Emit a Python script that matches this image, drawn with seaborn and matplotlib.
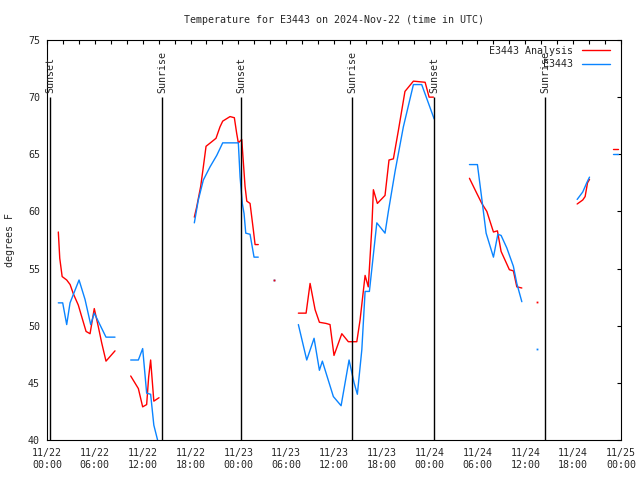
import numpy as np
import pandas as pd
import matplotlib
matplotlib.use("Agg")
import matplotlib.pyplot as plt
import seaborn as sns
from matplotlib.lines import Line2D

NaN = np.nan

# ---- data (hours since 2024-11-22 00:00 UTC; NaN separates gaps) ----
analysis_hours = [1.42, 1.6, 1.9, 2.47, 2.9, 3.3, 3.93, 4.35, 4.9, 5.4, 5.93, 6.44, 6.86, 7.4, 8.53, NaN,
                  10.5, 11.46, 12.0, 12.5, 12.75, 13.0, 13.4, 14.05, NaN,
                  18.48, 18.78, 19.28, 19.61, 19.95, 20.67, 21.2, 21.7, 22.04, 22.96, 23.5, 23.8, 24.0,
                  24.43, 24.84, 25.06, 25.47, 25.88, 26.1, 26.5, NaN,
                  28.5, NaN,
                  31.53, 32.5, 33.0, 33.63, 34.17, 35.0, 35.5, 36.0, 36.98, 37.8, 38.86, 39.27, 39.9,
                  40.3, 40.74, 40.94, 41.44, 42.4, 42.9, 43.45, 44.08, 44.9, 45.96, 47.43, 47.93, 48.47, NaN,
                  52.99, 53.9, 54.54, 55.17, 56.0, 56.5, 56.96, 58.0, 58.5, 58.93, 59.56, NaN,
                  61.5, NaN,
                  66.5, 67.2, 67.5, 67.8, 68.05, NaN,
                  71.0, 71.6]
analysis_temp = [58.2, 55.9, 54.3, 54.0, 53.6, 52.8, 51.8, 50.8, 49.5, 49.3, 51.5, 49.9, 48.5, 46.9, 47.8, NaN,
                 45.6, 44.5, 42.9, 43.1, 45.5, 47.0, 43.4, 43.7, NaN,
                 59.5, 60.4, 62.2, 63.9, 65.7, 66.1, 66.4, 67.4, 67.9, 68.3, 68.2, 66.8, 66.0,
                 66.3, 62.2, 60.9, 60.7, 58.4, 57.1, 57.1, NaN,
                 54.0, NaN,
                 51.1, 51.1, 53.7, 51.4, 50.3, 50.2, 50.1, 47.4, 49.3, 48.6, 48.6, 50.5, 54.4,
                 53.4, 58.5, 61.9, 60.7, 61.4, 64.5, 64.6, 67.1, 70.5, 71.4, 71.3, 70.0, 70.0, NaN,
                 62.9, 61.6, 60.7, 60.0, 58.2, 58.3, 56.5, 54.9, 54.8, 53.4, 53.3, NaN,
                 52.1, NaN,
                 60.65, 61.0, 61.3, 62.5, 62.8, NaN,
                 65.5, 65.5]

obs_hours = [1.42, 1.97, 2.47, 2.89, 4.02, 4.77, 5.48, 5.93, 7.4, 8.53, NaN,
             10.5, 11.46, 12.0, 12.5, 13.0, 13.4, 14.05, NaN,
             18.48, 18.98, 19.61, 20.45, 21.29, 22.04, 24.0, 24.22, 24.5, 24.72, 24.93, 25.47, 25.97, 26.5, NaN,
             28.5, NaN,
             31.53, 32.58, 33.5, 34.17, 34.54, 35.92, 36.89, 37.89, 38.52, 38.93, 39.49, 39.9, 40.44,
             41.37, 42.4, 42.82, 43.66, 44.7, 45.96, 47.0, 48.56, NaN,
             52.99, 53.99, 54.54, 55.08, 56.0, 56.55, 56.96, 57.68, 58.5, 58.93, 59.56, NaN,
             61.5, NaN,
             66.5, 67.2, 67.7, 68.05, NaN,
             71.0, 71.6]
obs_temp = [52.0, 52.0, 50.1, 52.0, 54.0, 52.3, 50.1, 51.1, 49.0, 49.0, NaN,
            47.0, 47.0, 48.0, 44.1, 44.0, 41.3, 39.5, NaN,
            59.0, 61.0, 62.75, 63.9, 64.9, 66.0, 66.0, 63.0, 60.7, 59.8, 58.1, 58.0, 56.0, 56.0, NaN,
            54.0, NaN,
            50.1, 47.0, 48.9, 46.1, 46.9, 43.8, 43.0, 47.0, 45.0, 44.0, 47.9, 53.0, 53.0,
            59.0, 58.1, 60.0, 63.5, 67.4, 71.1, 71.1, 68.1, NaN,
            64.1, 64.1, 61.1, 58.1, 56.0, 58.0, 57.9, 56.8, 55.2, 53.7, 52.1, NaN,
            48.0, NaN,
            61.05, 61.7, 62.5, 63.0, NaN,
            65.0, 65.0]

sun_hours = [0.38, 14.43, 24.34, 38.27, 48.56, 62.5]
sun_labels = ["Sunset", "Sunrise", "Sunset", "Sunrise", "Sunset", "Sunrise"]

xtick_hours = list(range(0, 73, 6))
xtick_labels = ["11/22\n00:00", "11/22\n06:00", "11/22\n12:00", "11/22\n18:00",
                "11/23\n00:00", "11/23\n06:00", "11/23\n12:00", "11/23\n18:00",
                "11/24\n00:00", "11/24\n06:00", "11/24\n12:00", "11/24\n18:00",
                "11/25\n00:00"]
yticks = [40, 45, 50, 55, 60, 65, 70, 75]

series_names = ["E3443 Analysis", "E3443"]
colors = {"E3443 Analysis": "#ff0000", "E3443": "#0a84ff"}


def to_frame(h, v, name):
    df = pd.DataFrame({"hour": h, "temp": v})
    df["seg"] = df["temp"].isna().cumsum()
    df = df.dropna().copy()
    df["series"] = name
    return df


df = pd.concat([to_frame(analysis_hours, analysis_temp, series_names[0]),
                to_frame(obs_hours, obs_temp, series_names[1])], ignore_index=True)
df["unit"] = df["series"] + "_" + df["seg"].astype(str)

sns.set_style("white")
plt.rcParams["font.family"] = ["DejaVu Sans Mono"]
FS = 7.2

fig = plt.figure(figsize=(6.4, 4.8), dpi=100)
ax = fig.add_axes([47 / 640, 40 / 480, 574 / 640, 400 / 480])

sns.lineplot(data=df, x="hour", y="temp", hue="series", units="unit", estimator=None,
             palette=colors, linewidth=1.0, sort=False, legend=False, ax=ax)

# isolated single readings
for (name, unit), g in df.groupby(["series", "unit"]):
    if len(g) == 1:
        ax.plot(g["hour"], g["temp"], marker="s", ms=1.3, mew=0, color=colors[name], ls="none")

ax.vlines(sun_hours, 40, 70, color="black", lw=1.0)
for h, lab in zip(sun_hours, sun_labels):
    ax.text(h, 70.4, lab, rotation=90, ha="center", va="bottom", fontsize=FS)

ax.set_xlim(0, 72)
ax.set_ylim(40, 75)
ax.set_xticks(xtick_hours)
ax.set_xticklabels(xtick_labels, fontsize=FS)
ax.set_xticks(np.arange(0, 73, 2), minor=True)
ax.set_yticks(yticks)
ax.set_yticklabels([str(y) for y in yticks], fontsize=FS)
ax.tick_params(axis="both", which="both", direction="in", top=True, right=True,
               length=3, width=0.8, color="black", pad=5)
ax.tick_params(axis="x", which="major", pad=6)
ax.set_xlabel("")
ax.set_ylabel("")
for sp in ax.spines.values():
    sp.set_color("black")
    sp.set_linewidth(0.8)

fig.text(10 / 640, 0.5, "degrees F", rotation=90, ha="center", va="center", fontsize=FS)
fig.text(334 / 640, 1 - 20 / 480, "Temperature for E3443 on 2024-Nov-22 (time in UTC)",
         ha="center", va="center", fontsize=FS)

width = max(len(n) for n in series_names)
handles = [Line2D([0], [0], color=colors[n], lw=1.0) for n in series_names]
ax.legend(handles, [n.rjust(width) for n in series_names], loc="upper right",
          bbox_to_anchor=(1.0 - 6 / 574, 1.0 - 1 / 400), frameon=False, fontsize=FS,
          markerfirst=False, handlelength=2.8, handletextpad=0.9, labelspacing=0.35,
          borderpad=0.3, borderaxespad=0.2)

fig.savefig("out.png", dpi=100)
